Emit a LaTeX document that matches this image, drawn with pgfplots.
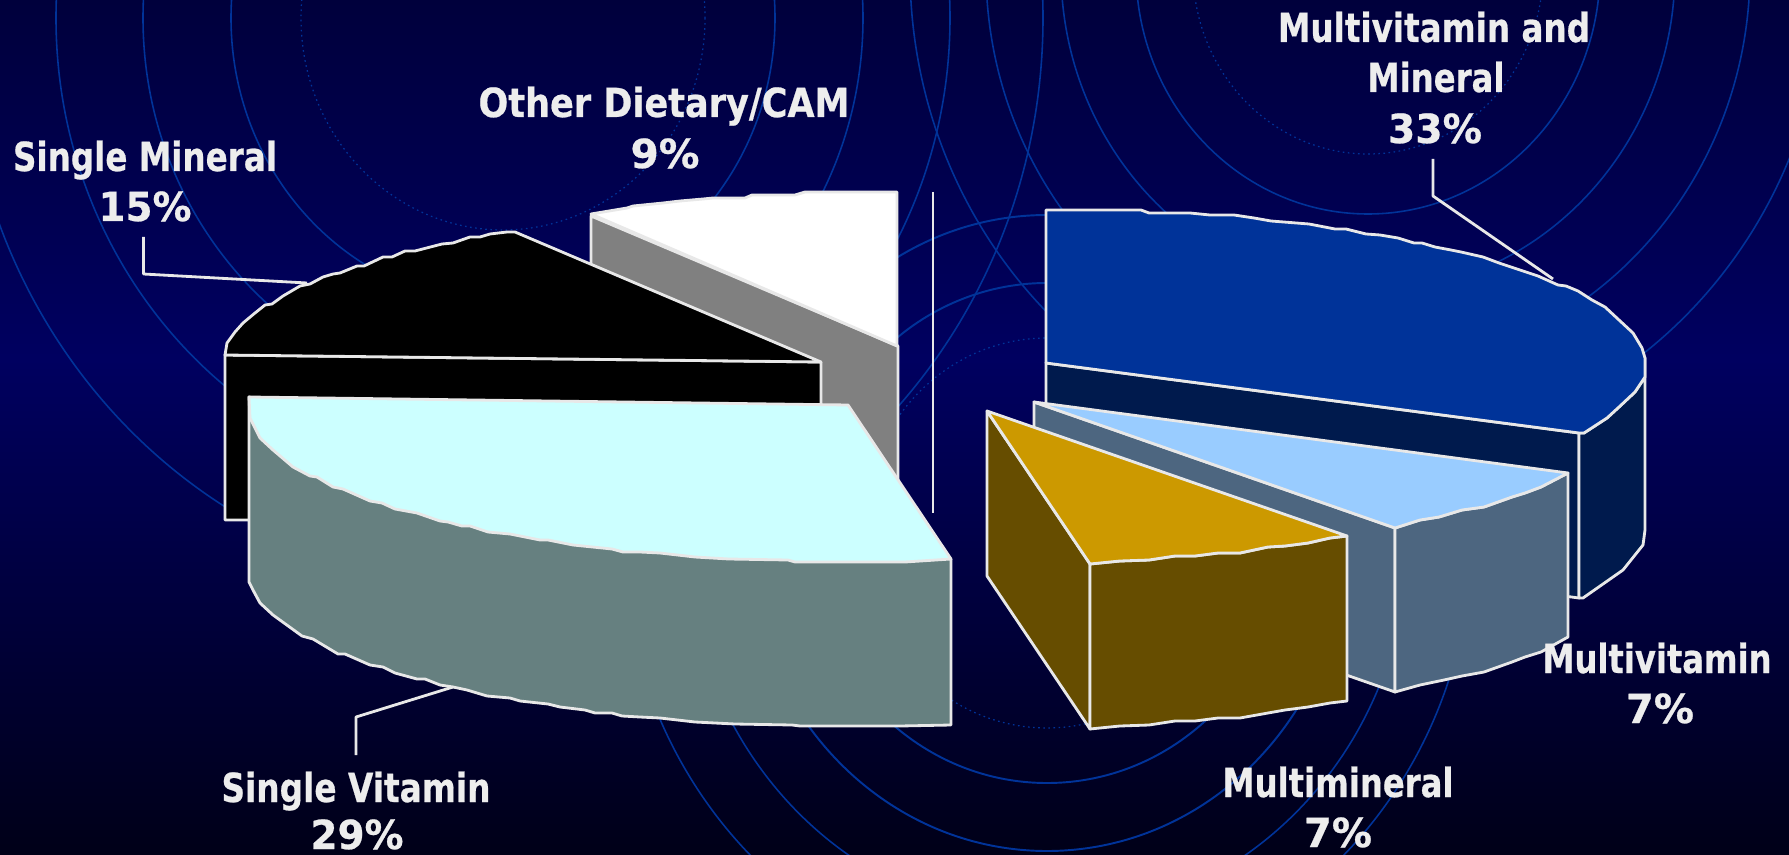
\documentclass[border=0pt]{standalone}
\usepackage{fontspec}
\setmainfont{DejaVu Sans}[BoldFeatures={FakeBold=0.6}]
\usepackage{graphicx}
\usepackage{pgfplots}
\pgfplotsset{compat=1.18}
\definecolor{labcol}{HTML}{EDEDED}
\definecolor{edgecol}{HTML}{E8E8E8}
\definecolor{ringcol}{HTML}{003399}
\definecolor{cBlue}{HTML}{003399}
\definecolor{cBlueW}{HTML}{001A4D}
\definecolor{cLight}{HTML}{99CCFF}
\definecolor{cLightW}{HTML}{4D6680}
\definecolor{cGold}{HTML}{CC9900}
\definecolor{cGoldW}{HTML}{664D00}
\definecolor{cCyan}{HTML}{CCFFFF}
\definecolor{cCyanW}{HTML}{668080}
\definecolor{cGrey}{HTML}{808080}
\definecolor{bgtop}{HTML}{00003C}
\definecolor{bgmid}{HTML}{000060}
\definecolor{bgbot}{HTML}{000018}
\pgfdeclareverticalshading{bgshade}{100bp}{
  color(0bp)=(bgbot);
  color(25bp)=(bgbot);
  color(54bp)=(bgmid);
  color(75bp)=(bgtop);
  color(100bp)=(bgtop)}
\newcommand\ring[5][]{\draw[ringcol,line width=0.45pt,#1] (axis cs:#2,#3) ellipse [x radius=#4, y radius=#5];}
\newcommand\lab[4]{\node[anchor=base,text=labcol,inner sep=0pt] at (axis cs:#1,#2) {\fontsize{11.4}{12}\selectfont\bfseries\resizebox{#3mm}{\height}{#4}};}
\begin{document}
\begin{tikzpicture}
\shade[use as bounding box,shading=bgshade] (0,0) rectangle (17.89cm,8.54cm);
\begin{axis}[at={(0,0)},anchor=south west,scale only axis,width=17.89cm,height=8.54cm,
  xmin=0,xmax=1789,ymin=0,ymax=854,y dir=reverse,hide axis,no markers,
  every axis plot/.append style={draw=edgecol,solid,line width=0.8pt,line join=round}]
% background rings
\ring[densely dotted,line width=0.35pt]{503}{18}{202}{212}
\ring{503}{18}{272}{286}
\ring{503}{18}{360}{378}
\ring{503}{18}{447}{470}
\ring{503}{18}{540}{570}
\ring[densely dotted,line width=0.35pt]{1368}{-30}{175}{184}
\ring{1368}{-30}{232}{244}
\ring{1368}{-30}{307}{322}
\ring{1368}{-30}{382}{400}
\ring{1368}{-30}{458}{480}
\ring[densely dotted,line width=0.35pt]{1047}{533}{185}{195}
\ring[line width=0.55pt]{1047}{533}{240}{250}
\ring[line width=0.55pt]{1047}{533}{300}{318}
\begin{scope}
\clip (axis cs:0,533) rectangle (axis cs:1789,854);
\ring{1047}{533}{362}{385}
\ring{1047}{533}{425}{450}
\end{scope}
% Other Dietary/CAM
\addplot[fill=cGrey,draw=edgecol] coordinates {(591,216)(898,346)(898,490)(591,360)} --cycle;
\addplot[fill=white,draw=edgecol] coordinates {(591,214)(627,208)(633,206)(663,203)(680,201)(703,199)(713,198)(745,198)(752,195)(795,195)(805,192)(897,192)(897,346)} --cycle;
% Single Mineral
\addplot[fill=black,draw=edgecol] coordinates {(225,355)(821,362)(821,520)(225,520)} --cycle;
\addplot[fill=black,draw=edgecol] coordinates {(225,355)(227,343)(235,332)(243,323)(255,313)(265,305)(272,304)(283,296)(300,286)(310,284)(323,277)(333,274)(340,273)(357,266)(364,266)(383,257)(392,257)(405,251)(415,251)(442,244)(453,243)(470,237)(480,237)(490,234)(507,232)(515,232)(821,362)} --cycle;
% Single Vitamin
\addplot[fill=cCyanW,draw=edgecol] coordinates {(249,397)(249,582)(253,590)(260,603)(273,615)(302,636)(313,639)(338,654)(345,654)(370,665)(383,667)(395,673)(417,679)(425,679)(440,685)(453,687)(467,690)(487,696)(510,698)(520,701)(548,704)(560,707)(585,710)(595,713)(612,713)(622,716)(640,717)(660,718)(695,722)(735,724)(792,725)(800,726)(900,726)(951,725)(951,559)} --cycle;
\addplot[fill=cCyan,draw=edgecol] coordinates {(249,397)(848,405)(951,559)(905,562)(795,562)(788,560)(729,559)(695,557)(660,553)(640,552)(623,552)(612,549)(573,545)(548,540)(540,540)(510,534)(488,532)(470,526)(462,526)(448,522)(440,521)(417,513)(395,509)(382,503)(370,501)(343,489)(333,487)(317,477)(310,476)(293,467)(273,450)(260,438)(250,418)} --cycle;
% stray vertical rule
\addplot[draw=edgecol] coordinates {(933,192)(933,513)};
% Multivitamin and Mineral
\addplot[fill=cBlueW,draw=edgecol] coordinates {(1046,363)(1579,433)(1579,598)(1046,527)} --cycle;
\addplot[fill=cBlueW,draw=edgecol] coordinates {(1645,358)(1645,377)(1635,392)(1619,407)(1607,418)(1584,433)(1579,433)(1579,598)(1583,598)(1623,570)(1643,545)(1645,530)} --cycle;
\addplot[fill=cBlue,draw=edgecol] coordinates {(1046,210)(1141,210)(1149,213)(1190,213)(1210,215)(1234,215)(1254,218)(1271,221)(1309,224)(1335,229)(1346,229)(1366,234)(1380,235)(1398,238)(1414,243)(1422,243)(1435,247)(1451,250)(1461,252)(1483,257)(1499,263)(1514,268)(1538,276)(1558,285)(1566,286)(1578,291)(1592,300)(1605,307)(1633,333)(1642,348)(1645,358)(1645,377)(1635,392)(1619,407)(1607,418)(1584,433)(1579,433)(1046,363)} --cycle;
% Multivitamin
\addplot[fill=cLightW,draw=edgecol] coordinates {(1034,402)(1395,528)(1395,692)(1034,566)} --cycle;
\addplot[fill=cLightW,draw=edgecol] coordinates {(1395,528)(1420,520)(1439,517)(1462,510)(1484,507)(1512,497)(1525,493)(1541,487)(1568,473)(1568,637)(1541,652)(1525,657)(1512,662)(1484,672)(1462,676)(1444,680)(1420,685)(1395,692)} --cycle;
\addplot[fill=cLight,draw=edgecol] coordinates {(1034,402)(1568,473)(1541,487)(1525,493)(1512,497)(1484,507)(1462,510)(1439,517)(1420,520)(1395,528)} --cycle;
% Multimineral
\addplot[fill=cGoldW,draw=edgecol] coordinates {(987,411)(1090,564)(1090,729)(987,576)} --cycle;
\addplot[fill=cGoldW,draw=edgecol] coordinates {(1090,564)(1120,561)(1149,560)(1175,556)(1195,556)(1218,553)(1240,553)(1268,547)(1285,546)(1308,543)(1330,538)(1347,536)(1347,701)(1330,703)(1308,707)(1285,710)(1268,713)(1240,718)(1218,718)(1195,721)(1175,721)(1149,725)(1120,726)(1090,729)} --cycle;
\addplot[fill=cGold,draw=edgecol] coordinates {(987,411)(1347,536)(1330,538)(1308,543)(1285,546)(1268,547)(1240,553)(1218,553)(1195,556)(1175,556)(1149,560)(1120,561)(1090,564)} --cycle;
% leaders
\addplot[draw=edgecol] coordinates {(143.5,237)(143.5,274)(307,283)};
\addplot[draw=edgecol] coordinates {(1433,159)(1433,196)(1553,279)};
\addplot[draw=edgecol] coordinates {(356,755)(356,717)(453,687)};
% labels
\lab{664}{117}{37.1}{Other Dietary/CAM}
\lab{665}{168}{6.9}{9\%}
\lab{145}{171}{26.4}{Single Mineral}
\lab{145}{221}{9.3}{15\%}
\lab{1434}{42}{31.2}{Multivitamin and}
\lab{1436}{92}{13.7}{Mineral}
\lab{1435}{143}{9.4}{33\%}
\lab{356}{802}{26.9}{Single Vitamin}
\lab{357}{849}{9.3}{29\%}
\lab{1657}{673}{22.9}{Multivitamin}
\lab{1660}{723}{6.8}{7\%}
\lab{1338}{797}{23.1}{Multimineral}
\lab{1338}{847}{6.8}{7\%}
\end{axis}
\end{tikzpicture}
\end{document}
